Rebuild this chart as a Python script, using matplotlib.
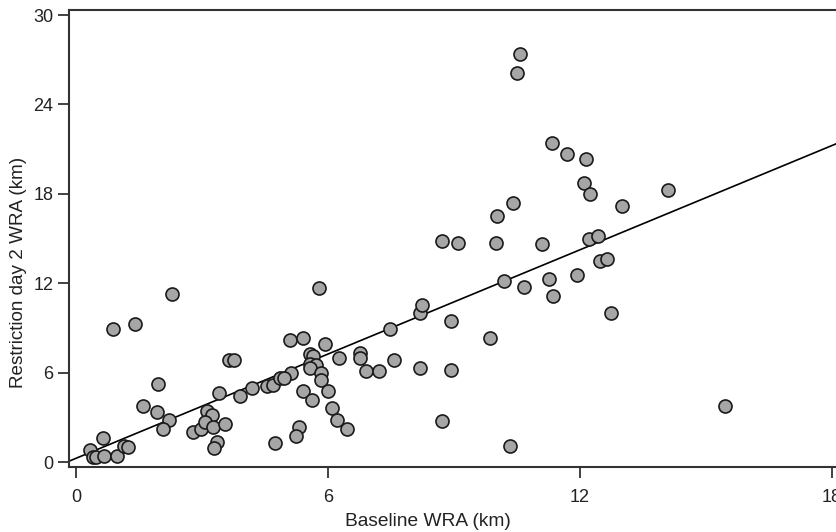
import numpy as np
import matplotlib
matplotlib.use('Agg')
import matplotlib.pyplot as plt

plt.rcParams['font.family'] = ['Liberation Sans', 'DejaVu Sans']

# baseline WRA (km) vs restriction day 2 WRA (km)
baseline = [0.33, 0.41, 0.48, 0.67, 0.63, 0.97, 1.14, 1.24, 0.87, 1.40, 2.28,
            1.60, 1.94, 1.92, 2.22, 2.06, 2.79, 2.97, 3.11, 3.23, 3.07, 3.27,
            3.54, 3.35, 3.29, 3.40, 3.90, 4.20, 3.63, 3.75, 4.54, 4.68, 4.74,
            4.86, 5.10, 5.40, 5.94, 7.48, 5.56, 5.65, 6.25, 6.76, 6.76, 7.57,
            5.57, 5.71, 5.56, 5.83, 5.83, 6.90, 7.21, 5.11, 4.95, 5.41, 5.63,
            6.01, 6.10, 6.22, 6.45, 5.31, 5.24, 5.79, 8.19, 8.25, 8.19, 8.94,
            8.94, 8.71, 10.33, 9.86, 10.20, 10.67, 11.27, 11.35, 10.57, 10.49,
            11.34, 10.41, 10.02, 8.72, 9.10, 10.00, 11.10, 11.69, 12.14, 12.10,
            12.24, 13.00, 14.11, 12.22, 12.44, 12.48, 12.64, 11.93, 12.74, 15.45]
day2 = [0.85, 0.36, 0.36, 0.42, 1.63, 0.42, 1.12, 1.05, 8.95, 9.30, 11.30,
        3.78, 5.28, 3.38, 2.82, 2.26, 2.03, 2.21, 3.44, 3.15, 2.70, 2.37,
        2.55, 1.36, 0.96, 4.65, 4.45, 4.99, 6.85, 6.85, 5.10, 5.17, 1.30,
        5.66, 8.23, 8.34, 7.90, 8.97, 7.23, 7.14, 7.00, 7.30, 7.00, 6.85,
        6.62, 6.55, 6.29, 6.00, 5.55, 6.13, 6.13, 6.00, 5.62, 4.79, 4.16,
        4.77, 3.65, 2.86, 2.26, 2.37, 1.74, 11.72, 9.98, 10.54, 6.33, 9.46,
        6.17, 2.75, 1.07, 8.34, 12.15, 11.77, 12.26, 11.14, 27.38, 26.13,
        21.39, 17.40, 16.53, 14.83, 14.68, 14.74, 14.61, 20.67, 20.31, 18.75,
        17.99, 17.20, 18.26, 14.97, 15.17, 13.51, 13.62, 12.55, 10.02, 3.78]

xticks = [0, 6, 12, 18]
yticks = [0, 6, 12, 18, 24, 30]

x = np.array(baseline)
y = np.array(day2)
slope, intercept = np.polyfit(x, y, 1)

fig = plt.figure(figsize=(8.36, 5.32), dpi=100)
ax = fig.add_axes([0.082, 0.1227, 0.918, 0.8594])
xlim = (-0.18, 18.1)
ylim = (-0.3, 30.37)

xx = np.array(xlim)
ax.plot(xx, intercept + slope * xx, color='black', lw=1.2, zorder=2)
ax.scatter(x, y, s=88, facecolor='#a6a6a6', edgecolor='#1a1a1a',
           linewidths=1.2, zorder=3, clip_on=False)

ax.set_xlim(*xlim)
ax.set_ylim(*ylim)
ax.set_xticks(xticks)
ax.set_yticks(yticks)
ax.tick_params(length=8, width=1.3, color='#333333', labelsize=13,
               labelcolor='#222222')
ax.tick_params(axis='x', pad=8)
ax.tick_params(axis='y', pad=3)
for s in ax.spines.values():
    s.set_color('#333333')
    s.set_linewidth(1.5)
ax.spines['right'].set_visible(False)

ax.set_xlabel('Baseline WRA (km)', fontsize=13.8, color='#222222', va='center')
ax.xaxis.set_label_coords(0.468, -0.120)
ax.set_ylabel('Restriction day 2 WRA (km)', fontsize=13.6, color='#222222',
              va='center')
ax.yaxis.set_label_coords(-0.065, 0.426)

fig.savefig('out.png', dpi=100)
